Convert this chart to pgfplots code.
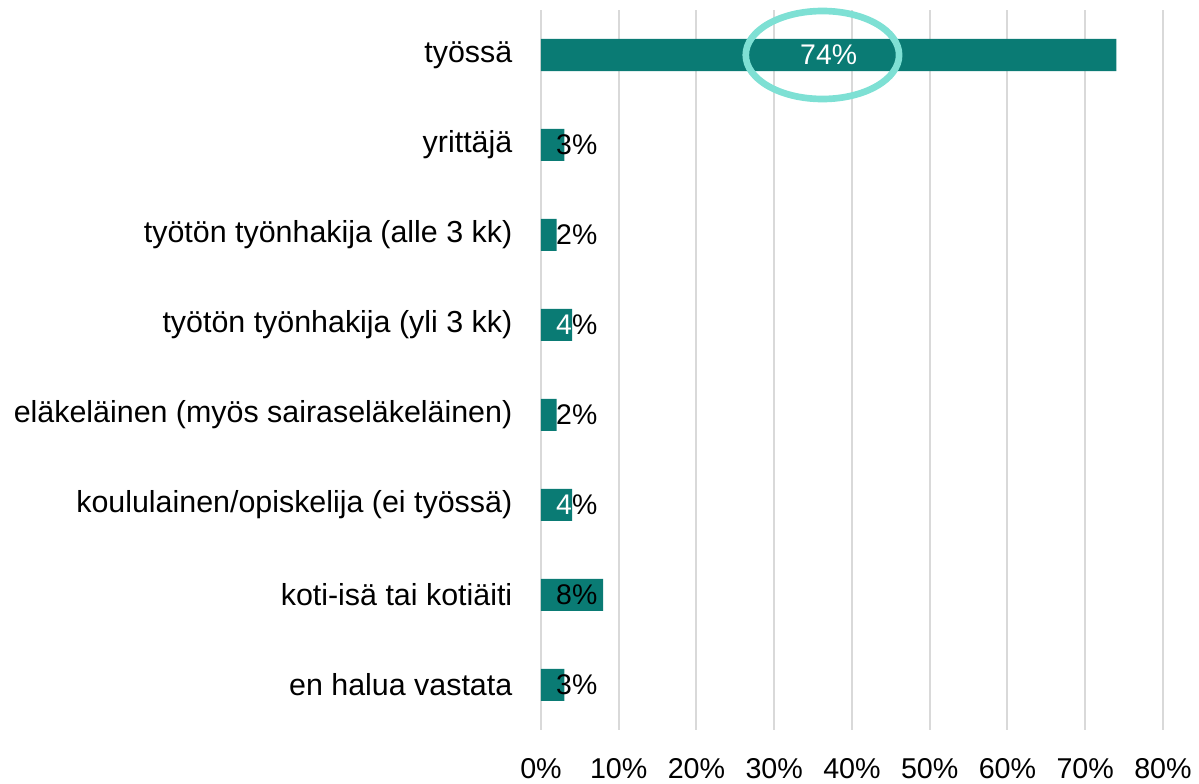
\documentclass[border=0pt]{standalone}
\usepackage{pgfplots}
\pgfplotsset{compat=1.18}
\usepackage{fontspec}
\setmainfont{Liberation Sans}
\definecolor{barteal}{RGB}{10,123,116}
\definecolor{ringteal}{RGB}{126,224,212}
\definecolor{gridgray}{RGB}{217,217,217}
\begin{document}
\begin{tikzpicture}
\useasboundingbox (-405.75pt,-40.5pt) rectangle (493.5pt,547.5pt);
\begin{axis}[
  at={(0,0)}, anchor=south west,
  scale only axis,
  width=466.5pt, height=540pt,
  xmin=0, xmax=80, ymin=0.5, ymax=8.5,
  axis line style={draw=none},
  xmajorgrids, ymajorgrids=false,
  grid style={gridgray, line width=1.5pt},
  xtick={0,10,...,80},
  xticklabel={\pgfmathprintnumber{\tick}\%},
  xticklabel style={font=\fontsize{21.5}{24}\selectfont, yshift=-18pt},
  ytick={1,...,8},
  yticklabels={en halua vastata, koti-isä tai kotiäiti, koululainen/opiskelija (ei työssä), eläkeläinen (myös sairaseläkeläinen), työtön työnhakija (yli 3 kk), työtön työnhakija (alle 3 kk), yrittäjä, työssä},
  yticklabel style={font=\fontsize{22.8}{26}\selectfont, xshift=-18pt},
  major tick length=0pt,
  /pgf/number format/assume math mode=true,
  clip=false,
]
\addplot[xbar, bar width=24pt, fill=barteal, draw=none] coordinates {
  (74,8) (3,7) (2,6) (4,5) (2,4) (4,3) (8,2) (3,1)
};
\addplot[draw=none, mark=none, forget plot,
  nodes near coords, point meta=explicit symbolic,
  every node near coord/.style={anchor=center, font=\fontsize{21.3}{24}\selectfont, text=black}]
  coordinates {
  (37,8) [{\color{white}74\%}]
  (4.6,7) [3\%]
  (4.6,6) [2\%]
  (4.6,5) [{\color{white}4}\%]
  (4.6,4) [2\%]
  (4.6,3) [{\color{white}4}\%]
  (4.6,2) [8\%]
  (4.6,1) [3\%]
};
\draw[ringteal, line width=5pt] (axis cs:36.2,8) ellipse [x radius=57.5pt, y radius=33pt];
\end{axis}
\end{tikzpicture}
\end{document}
